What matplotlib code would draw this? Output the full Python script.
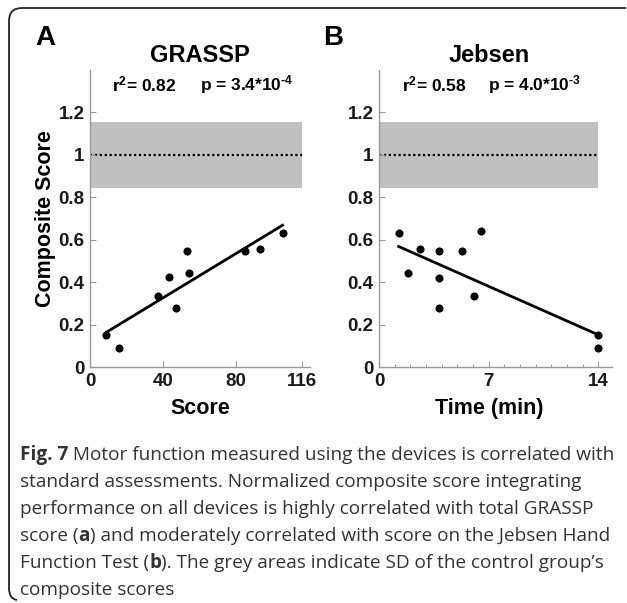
import numpy as np
import matplotlib
matplotlib.use('Agg')
import matplotlib.pyplot as plt
from matplotlib.path import Path
from matplotlib.patches import PathPatch

# panel A: total GRASSP score vs normalized composite score
grassp_score = [9, 16, 37, 43, 47, 53, 54, 85, 93, 105.5]
grassp_comp = [0.151, 0.088, 0.335, 0.422, 0.277, 0.549, 0.444, 0.549, 0.557, 0.633]

# panel B: Jebsen time (min) vs composite score
jebsen_time = [1.25, 1.85, 2.6, 3.8, 3.8, 3.8, 5.3, 6.05, 6.5, 14, 14]
jebsen_comp = [0.633, 0.444, 0.557, 0.549, 0.42, 0.277, 0.549, 0.335, 0.639, 0.151, 0.088]

control_mean = 1.0
control_sd = 0.157

ytick_vals = [0, 0.2, 0.4, 0.6, 0.8, 1.0, 1.2]
ytick_labels = ['0', '0.2', '0.4', '0.6', '0.8', '1', '1.2']
grassp_xticks = [0, 40, 80, 116]
jebsen_xticks = [0, 7, 14]

stats_a = ['r$^2$= 0.82', 'p = 3.4*10$^{\u20104}$']
stats_b = ['r$^2$= 0.58', 'p = 4.0*10$^{\u20103}$']

caption_lines = [
    [('Fig. 7', True), (' Motor function measured using the devices is correlated with', False)],
    [('standard assessments. Normalized composite score integrating', False)],
    [('performance on all devices is highly correlated with total GRASSP', False)],
    [('score (', False), ('a', True), (') and moderately correlated with score on the Jebsen Hand', False)],
    [('Function Test (', False), ('b', True), ('). The grey areas indicate SD of the control group\u2019s', False)],
    [('composite scores', False)],
]

plt.rcParams['font.family'] = 'Liberation Sans'
plt.rcParams['font.weight'] = 'bold'
plt.rcParams['mathtext.fontset'] = 'custom'
plt.rcParams['mathtext.rm'] = 'Liberation Sans:bold'
plt.rcParams['mathtext.it'] = 'Liberation Sans:bold'
plt.rcParams['mathtext.bf'] = 'Liberation Sans:bold'

W, H = 627, 603
fig = plt.figure(figsize=(W / 100, H / 100), dpi=100)


def px_box(left, right, top, bottom):
    return [left / W, 1 - bottom / H, (right - left) / W, (bottom - top) / H]


ax_a = fig.add_axes(px_box(90, 310, 70, 367))
ax_b = fig.add_axes(px_box(379, 611.7, 70, 367))

spine_col = '#9a9a9a'
band_col = '#c0c0c0'


def draw_panel(ax, x, y, xmax_band, xlim, xticks, stats, stats_x):
    ax.axhspan(control_mean - control_sd, control_mean + control_sd, xmin=0,
               xmax=xmax_band / xlim, color=band_col, lw=0, zorder=0)
    ax.plot([0, xmax_band], [control_mean, control_mean], color='black',
            ls=(0, (1, 1.2)), lw=1.6, zorder=1)
    ax.scatter(x, y, s=34, color='black', zorder=3, lw=0)
    k, b = np.polyfit(x, y, 1)
    xs = np.array([min(x), max(x)])
    ax.plot(xs, k * xs + b, color='black', lw=2.0, zorder=2)

    ax.set_xlim(0, xlim)
    ax.set_ylim(0, 1.4)
    ax.set_xticks(xticks)
    ax.set_xticklabels([str(t) for t in xticks])
    ax.set_yticks(ytick_vals)
    ax.set_yticklabels(ytick_labels)
    for s in ['top', 'right']:
        ax.spines[s].set_visible(False)
    for s in ['left', 'bottom']:
        ax.spines[s].set_color(spine_col)
        ax.spines[s].set_linewidth(1.0)
    ax.tick_params(direction='in', length=4, width=0.8, color=spine_col,
                   labelsize=13.5, labelcolor='#1a1a1a', pad=4)
    ax.tick_params(which='minor', direction='in', length=2.5, width=0.7, color=spine_col)
    ax.text(stats_x[0], 1.33, stats[0], fontsize=12.5, va='center', ha='left')
    ax.text(stats_x[1], 1.33, stats[1], fontsize=12.5, va='center', ha='left')


draw_panel(ax_a, grassp_score, grassp_comp, 116, 120.5, grassp_xticks, stats_a, [12, 60])
draw_panel(ax_b, jebsen_time, jebsen_comp, 14, 14.85, jebsen_xticks, stats_b, [1.45, 6.95])
ax_b.set_xticks(np.arange(0, 15, 1), minor=True)

ax_a.set_title('GRASSP', fontsize=17, fontweight='bold', pad=6)
ax_b.set_title('Jebsen', fontsize=17, fontweight='bold', pad=6, x=0.473)
ax_a.set_xlabel('Score', fontsize=15.5, fontweight='bold')
ax_b.set_xlabel('Time (min)', fontsize=15.5, fontweight='bold')
ax_a.xaxis.set_label_coords(0.5, -0.105)
ax_b.xaxis.set_label_coords(0.473, -0.105)
ax_a.set_ylabel('Composite Score', fontsize=15.5, fontweight='bold')
ax_a.yaxis.set_label_coords(-0.155, 0.5)

fig.text(35 / W, 1 - 38 / H, 'A', fontsize=20, fontweight='bold', va='center')
fig.text(323 / W, 1 - 38 / H, 'B', fontsize=20, fontweight='bold', va='center')

# rounded frame around figure + caption
def fx(p):
    return p / W


def fy(p):
    return 1 - p / H


verts = [(fx(626), fy(8)), (fx(22), fy(8)),
         (fx(9), fy(8)), (fx(9), fy(21)),
         (fx(9), fy(588)),
         (fx(9), fy(599)), (fx(17), fy(600))]
codes = [Path.MOVETO, Path.LINETO, Path.CURVE3, Path.CURVE3, Path.LINETO,
         Path.CURVE3, Path.CURVE3]
frame = PathPatch(Path(verts, codes), transform=fig.transFigure, fill=False,
                  lw=1.3, edgecolor='#222222')
fig.patches.append(frame)

# caption, mixed regular / bold pieces
renderer = fig.canvas.get_renderer()
cap_font = 'Open Sans'
cap_col = '#333333'


def piece_width(s, size, bold):
    kw = dict(fontsize=size, family=cap_font, fontweight='bold' if bold else 'normal')
    t1 = fig.text(0, 0, s + '|', **kw)
    t2 = fig.text(0, 0, '|', **kw)
    w = t1.get_window_extent(renderer).width - t2.get_window_extent(renderer).width
    t1.remove()
    t2.remove()
    return w


base_size = 12.0
w0 = sum(piece_width(s, base_size, b) for s, b in caption_lines[0])
cap_size = base_size * (612 - 20) / w0

y0 = 460
for i, line in enumerate(caption_lines):
    x = 20
    for s, b in line:
        fig.text(x / W, fy(y0 + i * 27), s, fontsize=cap_size, family=cap_font,
                 fontweight='bold' if b else 'normal', color=cap_col, va='baseline')
        x += piece_width(s, cap_size, b)

fig.savefig('out.png', dpi=100)
